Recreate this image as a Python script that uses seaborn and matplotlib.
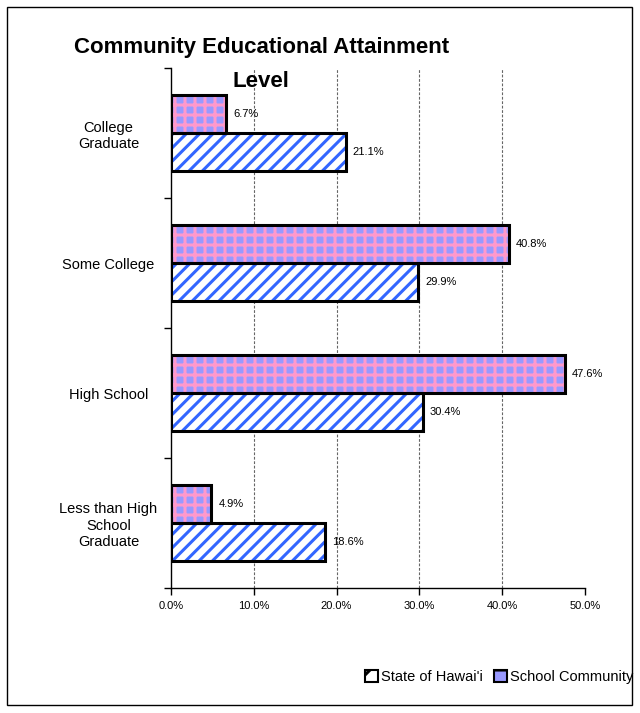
import matplotlib
matplotlib.use("Agg")
import matplotlib.pyplot as plt
from matplotlib.patches import Rectangle, Patch
import seaborn as sns
import pandas as pd

categories = ["College\nGraduate", "Some College", "High School",
              "Less than High\nSchool\nGraduate"]
school_community = [6.7, 40.8, 47.6, 4.9]
state_hawaii = [21.1, 29.9, 30.4, 18.6]
series_names = ["School Community", "State of Hawai'i"]
x_ticks = [0, 10, 20, 30, 40, 50]

# render at 120 dpi so the hatch tiles match the reference spacing;
# k converts sizes that were tuned for 100 dpi
DPI = 120
k = 100 / DPI

df = pd.DataFrame({
    "level": categories * 2,
    "pct": school_community + state_hawaii,
    "series": [series_names[0]] * 4 + [series_names[1]] * 4,
})

sns.set_style("white")
plt.rcParams["font.family"] = ["Liberation Sans", "DejaVu Sans"]
plt.rcParams["text.color"] = "black"
plt.rcParams["xtick.color"] = "black"
plt.rcParams["ytick.color"] = "black"
plt.rcParams["hatch.linewidth"] = 2.2 * k

fig = plt.figure(figsize=(640 / DPI, 713 / DPI), dpi=DPI)
ax = fig.add_axes([0.267, 0.1753, 0.647, 0.7293])

sns.barplot(data=df, y="level", x="pct", hue="series", hue_order=series_names,
            order=categories, orient="h", width=0.58, ax=ax, legend=False,
            saturation=1)

styles = {
    series_names[0]: dict(face="#9999FF", hatch="++", hcolor="#FF99CC"),
    series_names[1]: dict(face="white", hatch="///", hcolor="#3366FF"),
}

for cont, name in zip(ax.containers, series_names):
    st = styles[name]
    for p in cont.patches:
        p.set_facecolor(st["face"])
        p.set_hatch(st["hatch"])
        p.set_edgecolor(st["hcolor"])
        p.set_linewidth(0)
        # black outline on top
        ax.add_patch(Rectangle(p.get_xy(), p.get_width(), p.get_height(),
                               fill=False, edgecolor="black",
                               linewidth=2.2 * k,
                               zorder=p.get_zorder() + 0.1))
    ax.bar_label(cont, fmt="%.1f%%", padding=5 * k, fontsize=8 * k)

ax.set_xlim(0, 50)
ax.set_ylim(len(categories) - 0.5, -0.5)
ax.set_xticks(x_ticks)
ax.set_xticklabels([f"{v:.1f}%" for v in x_ticks], fontsize=8 * k)
ax.tick_params(axis="x", length=5 * k, width=k, direction="out", pad=4 * k,
               bottom=True)

# category boundaries carry the ticks, labels sit on the centers
ax.set_yticks([i - 0.5 for i in range(len(categories) + 1)])
ax.set_yticklabels([])
ax.set_yticks(range(len(categories)), minor=True)
ax.set_yticklabels(categories, minor=True, fontsize=10.5 * k, ha="center",
                   multialignment="center")
ax.tick_params(axis="y", which="major", length=5 * k, width=k,
               direction="out", left=True)
ax.tick_params(axis="y", which="minor", length=0, pad=45 * k)

ax.set_xlabel("")
ax.set_ylabel("")

for s in ["top", "right"]:
    ax.spines[s].set_visible(False)
for s in ["left", "bottom"]:
    ax.spines[s].set_color("black")
    ax.spines[s].set_linewidth(k)

for v in x_ticks[1:-1]:
    ax.axvline(v, color="#666666", linestyle=(0, (2.5, 1.5)),
               linewidth=0.8 * k, zorder=0)

fig.text(0.408, 0.91, "Community Educational Attainment\nLevel",
         ha="center", va="center", fontsize=16 * k, fontweight="bold",
         linespacing=1.8)

handles = [
    Patch(facecolor=styles[series_names[1]]["face"], hatch="//",
          edgecolor="black", linewidth=1.5 * k, label=series_names[1]),
    Patch(facecolor=styles[series_names[0]]["face"], hatch="+",
          edgecolor="black", linewidth=1.5 * k, label=series_names[0]),
]
fig.legend(handles=handles, loc="center", bbox_to_anchor=(0.78, 0.05),
           ncol=2, frameon=False, fontsize=10.5 * k, handlelength=0.85,
           handleheight=0.85, handletextpad=0.2, columnspacing=0.8)

fig.patches.append(Rectangle((0.011, 0.011), 0.977, 0.979, fill=False,
                             edgecolor="black", linewidth=k,
                             transform=fig.transFigure, figure=fig))

fig.savefig("out.png", dpi=DPI)
